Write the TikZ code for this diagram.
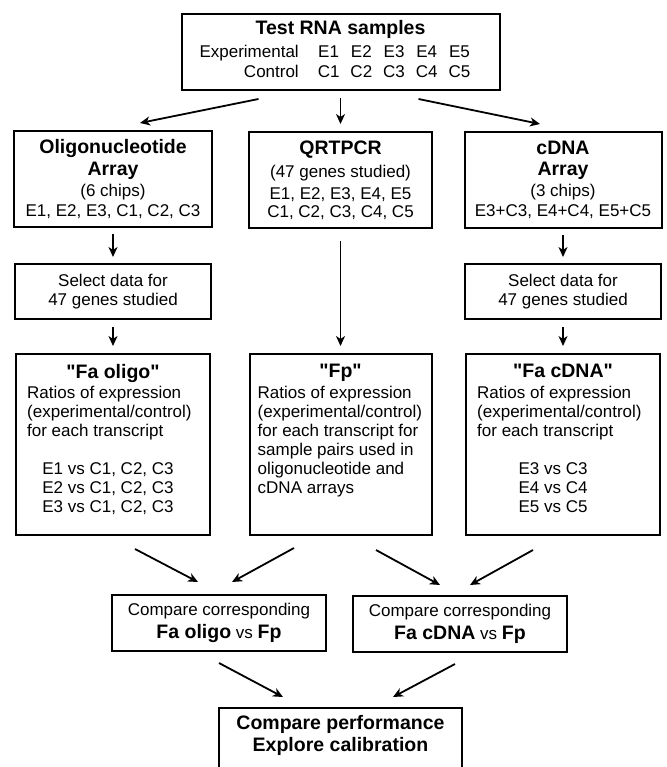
\documentclass[tikz,border=0pt]{standalone}
\usepackage{fontspec}
\setmainfont{Liberation Sans}[Ligatures=TeXOff]
\usetikzlibrary{arrows.meta, positioning}

\newcommand{\headfont}{\fontsize{19.5}{22}\selectfont\bfseries}

\begin{document}
\begin{tikzpicture}[
    x=1pt, y=1pt,
    every node/.style={font=\fontsize{17}{19.5}\selectfont},
    box/.style={
        draw,
        line width=2pt,
        inner sep=0pt,
        align=center,
    },
    head/.style={font=\headfont, inner sep=0pt},
    body/.style={font=\fontsize{17}{19}\selectfont, inner sep=0pt},
    link/.style={-{Stealth[length=10pt, width=9pt, inset=3pt]}, line width=1.8pt},
]
\useasboundingbox (0,0) rectangle (666,-767);

% Samples box
\node[box, minimum width=318pt, minimum height=76pt] (samples) at (340.5,-52) {%
    {\headfont Test RNA samples}\\[3.5pt]
    \begin{tabular}[t]{@{}r@{\hspace{19pt}}c@{\hspace{11pt}}c@{\hspace{11pt}}c@{\hspace{11pt}}c@{\hspace{11pt}}c@{}}
        Experimental & E1 & E2 & E3 & E4 & E5\\
        Control & C1 & C2 & C3 & C4 & C5
    \end{tabular}\hspace*{11pt}};

% Three methods
\node[box, minimum width=198pt, minimum height=96pt] (oligo) at (113,-179) {%
    {\headfont Oligonucleotide}\\[2.5pt]
    {\headfont Array}\\[1.5pt]
    (6 chips)\\
    E1, E2, E3, C1, C2, C3};
\node[box, minimum width=183pt, minimum height=96pt] (qrt) at (340.5,-180) {%
    {\headfont QRTPCR}\\[4pt]
    (47 genes studied)\\[2pt]
    E1, E2, E3, E4, E5\\[-1.5pt]
    C1, C2, C3, C4, C5};
\node[box, minimum width=197pt, minimum height=96pt] (cdna) at (563,-180) {%
    {\headfont cDNA}\\[1.5pt]
    {\headfont Array}\\[1.5pt]
    (3 chips)\\
    E3+C3, E4+C4, E5+C5};

% Selection boxes
\node[box, minimum width=196pt, minimum height=55pt] (selA) at (113,-291.5) {Select data for\\47 genes studied};
\node[box, minimum width=196pt, minimum height=55pt] (selB) at (563,-291.5) {Select data for\\47 genes studied};

% Ratio boxes
\node[box, minimum width=194pt, minimum height=181pt] (faoligo) at (113,-444.5) {};
\node[box, minimum width=182pt, minimum height=181pt] (fp) at (340.5,-444.5) {};
\node[box, minimum width=194pt, minimum height=181pt] (facdna) at (563,-444.5) {};

\node[head, anchor=north] (faoligoT) at ([yshift=-11pt]faoligo.north) {"Fa oligo"};
\node[head, anchor=north] (fpT) at ([yshift=-11pt]fp.north) {"Fp"};
\node[head, anchor=north] (facdnaT) at ([yshift=-11pt]facdna.north) {"Fa cDNA"};

\node[body, anchor=north west, align=left] (faoligoB) at ([xshift=12pt, yshift=-33pt]faoligo.north west)
    {Ratios of expression\\(experimental/control)\\for each transcript};
\node[body, anchor=north west, align=left] (fpB) at ([xshift=9pt, yshift=-33pt]fp.north west)
    {Ratios of expression\\(experimental/control)\\for each transcript for\\sample pairs used in\\oligonucleotide and\\cDNA arrays};
\node[body, anchor=north west, align=left] (facdnaB) at ([xshift=12pt, yshift=-33pt]facdna.north west)
    {Ratios of expression\\(experimental/control)\\for each transcript};

\node[body, anchor=north, align=center] (faoligoP) at ([xshift=-5pt, yshift=-109pt]faoligo.north)
    {E1 vs C1, C2, C3\\E2 vs C1, C2, C3\\E3 vs C1, C2, C3};
\node[body, anchor=north, align=center] (facdnaP) at ([xshift=-10pt, yshift=-109pt]facdna.north)
    {E3 vs C3\\E4 vs C4\\E5 vs C5};

% Comparisons
\node[box, minimum width=214pt, minimum height=56pt] (cmpA) at (219,-623) {%
    Compare corresponding\\[3.5pt]
    {\headfont Fa oligo} vs {\headfont Fp}};
\node[box, minimum width=214pt, minimum height=56pt] (cmpB) at (460,-624) {%
    Compare corresponding\\[3.5pt]
    {\headfont Fa cDNA} vs {\headfont Fp}};

\node[box, minimum width=243pt, minimum height=70pt] (final) at (340.5,-743) {};
\node[head, anchor=north, align=center] (finalT) at ([yshift=-8pt]final.north)
    {Compare performance\\Explore calibration};

% Connectors
\draw[link] ([xshift=-82pt, yshift=-8pt]samples.south) -- ([xshift=27pt, yshift=7pt]oligo.north);
\draw[link] ([yshift=-7pt]samples.south) -- ([yshift=7pt]qrt.north);
\draw[link] ([xshift=78pt, yshift=-8pt]samples.south) -- ([xshift=-23pt, yshift=7pt]cdna.north);

\draw[link] ([yshift=-6pt]oligo.south) -- ([yshift=6pt]selA.north);
\draw[link] ([yshift=-6pt]cdna.south) -- ([yshift=6pt]selB.north);
\draw[link] ([yshift=-12pt]qrt.south) -- ([yshift=7pt]fp.north);
\draw[link] ([yshift=-7pt]selA.south) -- ([yshift=7pt]faoligo.north);
\draw[link] ([yshift=-7pt]selB.south) -- ([yshift=7pt]facdna.north);

\draw[link] ([xshift=22pt, yshift=-13pt]faoligo.south) -- ([xshift=-21pt, yshift=12pt]cmpA.north);
\draw[link] ([xshift=-46.5pt, yshift=-12pt]fp.south) -- ([xshift=13pt, yshift=12pt]cmpA.north);
\draw[link] ([xshift=35.5pt, yshift=-14pt]fp.south) -- ([xshift=-20pt, yshift=10pt]cmpB.north);
\draw[link] ([xshift=-30pt, yshift=-14pt]facdna.south) -- ([xshift=10pt, yshift=10pt]cmpB.north);

\draw[link] ([yshift=-11pt]cmpA.south) -- ([xshift=-57.5pt, yshift=10pt]final.north);
\draw[link] ([xshift=-5pt, yshift=-11pt]cmpB.south) -- ([xshift=52.5pt, yshift=10pt]final.north);

\end{tikzpicture}
\end{document}
